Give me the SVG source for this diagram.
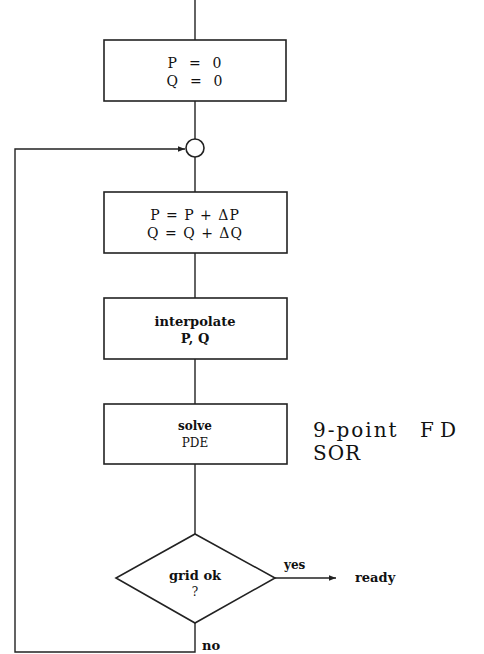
<svg xmlns="http://www.w3.org/2000/svg" width="484" height="654" viewBox="0 0 484 654">
<style>
.box{fill:#fff;stroke:#222;stroke-width:1.6}
.ln{fill:none;stroke:#222;stroke-width:1.4}
.t{font-family:"DejaVu Serif","Liberation Serif",serif;fill:#111;text-anchor:middle;white-space:pre}
.s{font-family:"DejaVu Serif","Liberation Serif",serif;fill:#111;text-anchor:start;white-space:pre}
.b{font-weight:bold}
</style>
<defs>
<marker id="ah" viewBox="0 0 10 10" refX="10" refY="5" markerWidth="5" markerHeight="5" orient="auto"><path d="M0,1 L10,5 L0,9 z" fill="#222"/></marker>
</defs>
<rect width="484" height="654" fill="#fff"/>
<g id="connectors">
<line class="ln" x1="195" y1="0" x2="195" y2="40"/>
<line class="ln" x1="195" y1="101" x2="195" y2="139"/>
<line class="ln" x1="195" y1="157" x2="195" y2="192"/>
<line class="ln" x1="195" y1="253" x2="195" y2="298"/>
<line class="ln" x1="195" y1="359" x2="195" y2="404"/>
<line class="ln" x1="195" y1="464" x2="195" y2="534"/>
<polyline class="ln" points="195,623 195,652 15,652 15,149 185,149" marker-end="url(#ah)"/>
<line class="ln" x1="275" y1="578" x2="336" y2="578" marker-end="url(#ah)"/>
<text class="s b" x="284" y="569" font-size="12">yes</text>
<text class="s b" x="202" y="650" font-size="13">no</text>
</g>
<g id="init">
<rect class="box" x="104" y="40" width="182" height="61"/>
<text class="t" x="195" y="68" font-size="14" letter-spacing="1">P  =  0</text>
<text class="t" x="195" y="86" font-size="14" letter-spacing="1">Q  =  0</text>
</g>
<g id="junction">
<circle cx="195" cy="148" r="9" fill="#fff" stroke="#222" stroke-width="1.6"/>
</g>
<g id="update">
<rect class="box" x="104" y="192" width="183" height="61"/>
<text class="t" x="195" y="220" font-size="14" letter-spacing="1">P = P + ΔP</text>
<text class="t" x="195" y="238" font-size="14" letter-spacing="1">Q = Q + ΔQ</text>
</g>
<g id="interpolate">
<rect class="box" x="104" y="298" width="183" height="61"/>
<text class="t b" x="195" y="326" font-size="13">interpolate</text>
<text class="t b" x="195" y="343" font-size="13">P, Q</text>
</g>
<g id="solve">
<rect class="box" x="104" y="404" width="183" height="60"/>
<text class="t b" x="195" y="430" font-size="12">solve</text>
<text class="t" x="195" y="447" font-size="12">PDE</text>
</g>
<g id="decision">
<polygon class="box" points="195,534 275,578 195,623 116,578"/>
<text class="t b" x="195" y="580" font-size="13">grid ok</text>
<text class="t" x="195" y="596" font-size="12">?</text>
</g>
<g id="ready">
<text class="s b" x="355" y="582" font-size="13">ready</text>
</g>
<g id="note">
<text class="s" x="313" y="437" font-size="20" letter-spacing="2">9-point <tspan x="420" letter-spacing="6">FD</tspan></text>
<text class="s" x="313" y="460" font-size="20" letter-spacing="1">SOR</text>
</g>
</svg>
